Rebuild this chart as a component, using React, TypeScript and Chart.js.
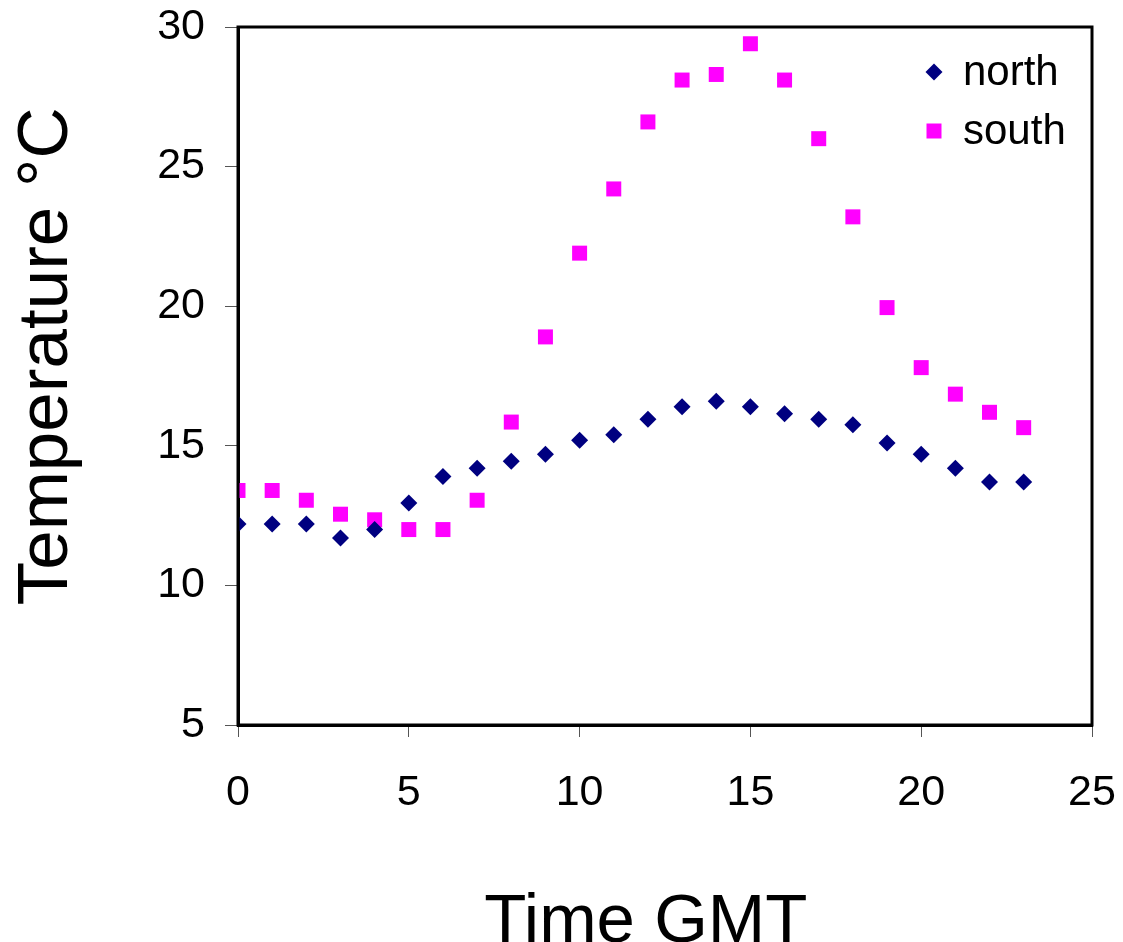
import React, { useEffect, useRef } from "react";
import { Chart, registerables } from "chart.js";

Chart.register(...registerables);

const hours = [0, 1, 2, 3, 4, 5, 6, 7, 8, 9, 10, 11, 12, 13, 14, 15, 16, 17, 18, 19, 20, 21, 22, 23];
const northTemps = [12.2, 12.2, 12.2, 11.7, 12.0, 12.95, 13.9, 14.2, 14.45, 14.7, 15.2, 15.4, 15.95, 16.4, 16.6, 16.4, 16.15, 15.95, 15.75, 15.1, 14.7, 14.2, 13.7, 13.7];
const southTemps = [13.4, 13.4, 13.05, 12.55, 12.35, 12.0, 12.0, 13.05, 15.85, 18.9, 21.9, 24.2, 26.6, 28.1, 28.3, 29.4, 28.1, 26.0, 23.2, 19.95, 17.8, 16.85, 16.2, 15.65];
const seriesNames = ["north", "south"];
const xTitle = "Time GMT  ";
const yTitle = "  Temperature °C";

const FONT = "'Liberation Sans', Arial, sans-serif";

const framePlugin = {
  id: "frameAndLegend",
  afterDatasetsDraw(chart: any) {
    const { ctx, chartArea } = chart;
    ctx.save();
    ctx.strokeStyle = "#000";
    ctx.lineWidth = 3;
    ctx.strokeRect(chartArea.left, chartArea.top, chartArea.right - chartArea.left, chartArea.bottom - chartArea.top);
    // legend
    const ds = chart.data.datasets;
    const ys = [chartArea.top + 45, chartArea.top + 104];
    const mx = chartArea.right - 158;
    const tx = chartArea.right - 129;
    ds.forEach((d: any, i: number) => {
      const y = ys[i];
      ctx.fillStyle = d.backgroundColor;
      ctx.beginPath();
      if (d.pointStyle === "rectRot") {
        const r = 8.5;
        ctx.moveTo(mx - r, y);
        ctx.lineTo(mx, y - r);
        ctx.lineTo(mx + r, y);
        ctx.lineTo(mx, y + r);
        ctx.closePath();
      } else {
        ctx.rect(mx - 7.5, y - 7.5, 15, 15);
      }
      ctx.fill();
      ctx.fillStyle = "#000";
      ctx.font = `42px ${FONT}`;
      ctx.textBaseline = "middle";
      ctx.textAlign = "left";
      ctx.fillText(d.label, tx, y + 1);
    });
    ctx.restore();
  },
};

const zeroPad = (s: any) => {
  s.paddingTop = 0;
  s.paddingBottom = 0;
  s.paddingLeft = 0;
  s.paddingRight = 0;
};

export default function App() {
  const ref = useRef<HTMLCanvasElement>(null);
  useEffect(() => {
    if (!ref.current) return;
    const chart = new Chart(ref.current, {
      type: "scatter",
      data: {
        datasets: [
          {
            label: seriesNames[0],
            data: hours.map((h, i) => ({ x: h, y: northTemps[i] })),
            backgroundColor: "#000080",
            borderColor: "#000080",
            pointStyle: "rectRot",
            pointRadius: 8.5,
            pointHoverRadius: 8.5,
            borderWidth: 0,
          },
          {
            label: seriesNames[1],
            data: hours.map((h, i) => ({ x: h, y: southTemps[i] })),
            backgroundColor: "#FF00FF",
            borderColor: "#FF00FF",
            pointStyle: "rect",
            pointRadius: 10.6,
            pointHoverRadius: 10.6,
            borderWidth: 0,
          },
        ],
      },
      options: {
        animation: false,
        responsive: false,
        layout: { padding: { top: 27, right: 31, left: 0, bottom: 0 } },
        plugins: { legend: { display: false }, tooltip: { enabled: false } },
        scales: {
          x: {
            type: "linear",
            min: 0,
            max: 25,
            ticks: { stepSize: 5, color: "#000", font: { family: FONT, size: 43 }, padding: 30, maxRotation: 0 },
            grid: { drawOnChartArea: false, drawTicks: true, tickLength: 12, color: "#555", lineWidth: 1 },
            border: { display: true, color: "#000", width: 3 },
            title: { display: true, text: xTitle, color: "#000", font: { family: FONT, size: 69, lineHeight: 0.55 }, padding: { top: 0, bottom: 0 } },
            afterFit: (s: any) => { s.height = 942 - 725; zeroPad(s); },
          },
          y: {
            type: "linear",
            min: 5,
            max: 30,
            ticks: { stepSize: 5, color: "#000", font: { family: FONT, size: 43 }, padding: 20 },
            grid: { drawOnChartArea: false, drawTicks: true, tickLength: 13, color: "#555", lineWidth: 1 },
            border: { display: true, color: "#000", width: 3 },
            title: { display: true, text: yTitle, color: "#000", font: { family: FONT, size: 71, lineHeight: 1.2 }, padding: { top: 5, bottom: 0 } },
            afterFit: (s: any) => { s.width = 238; zeroPad(s); },
          },
        },
      },
      plugins: [framePlugin],
    } as any);
    return () => chart.destroy();
  }, []);
  return (
    <div style={{ position: "absolute", left: 0, top: 0, width: 1123, height: 942, background: "#fff" }}>
      <canvas ref={ref} width={1123} height={942} style={{ width: 1123, height: 942 }} />
    </div>
  );
}
